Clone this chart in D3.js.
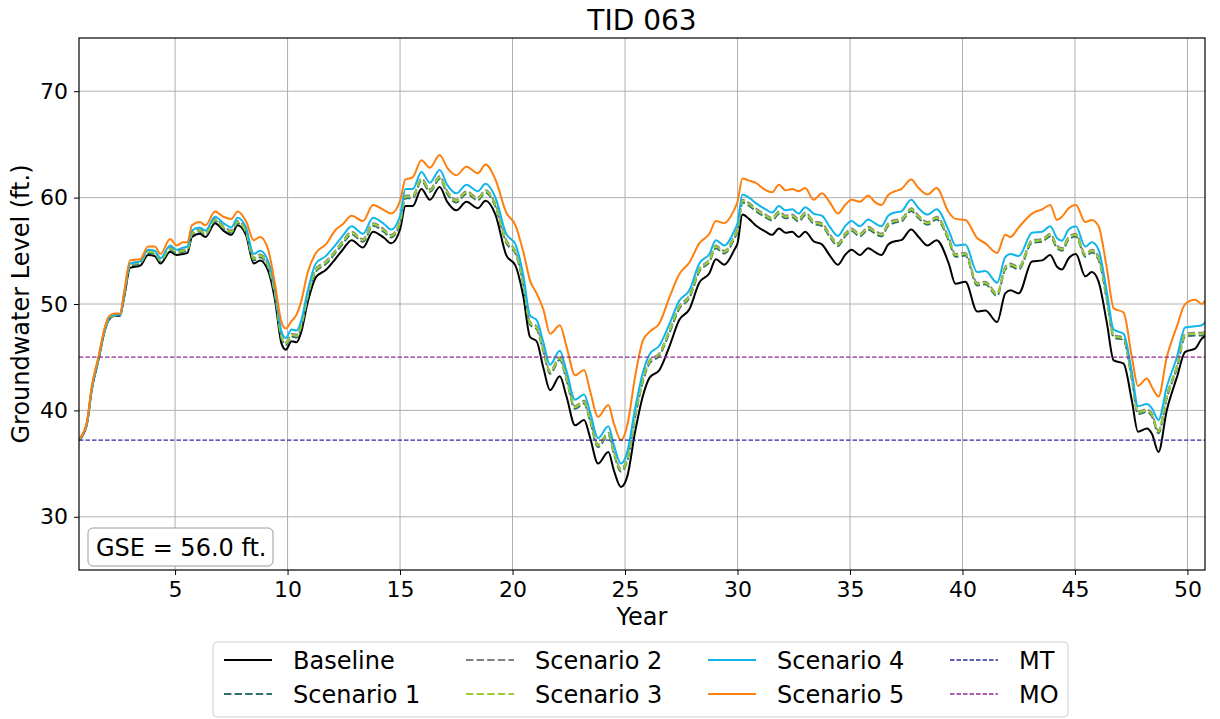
<!DOCTYPE html>
<html>
<head>
<meta charset="utf-8">
<script src="https://cdnjs.cloudflare.com/ajax/libs/d3/7.8.5/d3.min.js"></script>
<style>
  body { margin: 0; background: #fff; }
  svg text { font-family: "DejaVu Sans", sans-serif; fill: #000; }
</style>
</head>
<body>
<svg id="chart" width="1220" height="719"></svg>
<script>
// time axis (years), shared by every series
var years = [
  0.73, 1.07, 1.3, 1.6, 1.85, 2.05, 2.3, 2.55, 2.75,
  3.0, 3.45, 3.8, 4.1, 4.35, 4.78, 5.07, 5.35, 5.55,
  5.75, 6.1, 6.35, 6.78, 7.15, 7.5, 7.78, 8.15,
  8.5, 8.78, 9.14, 9.44, 9.73, 9.92, 10.18, 10.4, 10.6, 10.9,
  11.26, 11.7, 12.15, 12.45, 12.85, 13.35, 13.8, 14.3, 14.6, 15.0,
  15.24, 15.56, 15.95, 16.33, 16.76, 17.1, 17.5, 17.95, 18.46, 18.8, 19.24,
  19.72, 20.13, 20.48, 20.78, 21.07, 21.37, 21.67, 22.1, 22.4,
  22.78, 23.18, 23.44, 23.8, 24.26, 24.5, 24.82, 25.1,
  25.45, 25.8, 26.1, 26.53, 26.97, 27.41, 27.86, 28.3, 28.75,
  29.04, 29.41, 29.86, 30.0,
  30.22, 30.51, 30.8, 31.25, 31.54, 31.84, 32.13, 32.43, 32.72, 33.01,
  33.38, 33.75, 34.12, 34.46, 34.78, 35.07, 35.44, 35.81, 36.1, 36.4,
  36.7, 37.0, 37.28, 37.72, 38.05, 38.45, 38.85,
  39.39, 39.69, 40.13, 40.65, 41.02, 41.54, 41.9, 42.13, 42.5,
  43.09, 43.54, 43.9, 44.2, 44.42, 44.72, 45.04,
  45.46, 45.75, 46.05, 46.42, 46.72, 47.16,
  47.53, 47.8, 48.2, 48.42, 48.71,
  49.08, 49.53, 49.9, 50.34, 50.64, 50.78
];

var baseline = [
  37.2, 38.6, 42.0, 44.8, 47.3, 48.5, 48.9, 48.9, 50.8,
  53.4, 53.6, 54.6, 54.5, 53.8, 54.9, 54.6, 54.7, 54.8,
  56.3, 56.6, 56.3, 57.6, 56.9, 56.5, 57.4, 56.5,
  53.8, 54.1, 53.1, 50.4, 46.3, 45.7, 46.5, 46.4, 47.3, 50.2,
  52.5, 53.2, 54.3, 55.1, 56.0, 55.3, 56.8, 56.2, 55.7, 57.0,
  59.2, 59.2, 60.8, 59.8, 61.0, 59.6, 58.8, 59.6, 59.0, 59.7, 58.4,
  54.6, 53.6, 50.7, 46.9, 46.5, 44.0, 41.9, 43.2, 41.3,
  38.6, 39.1, 37.5, 35.0, 36.1, 34.4, 32.8, 33.8,
  38.0, 41.4, 43.1, 43.8, 46.0, 48.5, 49.5, 52.0, 52.9,
  54.2, 53.7, 55.1, 55.7,
  58.4, 58.0, 57.4, 56.8, 56.5, 57.1, 56.7, 56.8, 56.3, 56.8,
  55.9, 55.6, 54.5, 53.7, 54.6, 55.1, 54.6, 55.25, 54.9, 54.6,
  55.6, 55.9, 56.0, 57.0, 56.3, 55.5, 56.0,
  53.8, 51.9, 52.1, 49.3, 49.4, 48.3, 51.0, 51.3, 51.0,
  54.0, 54.1, 54.6, 53.5, 53.25, 54.3, 54.7,
  52.6, 53.0, 52.1, 48.2, 44.7, 44.4,
  40.9, 38.0, 38.3, 37.8, 36.1,
  40.0, 43.1, 45.5, 45.8, 46.75, 47.0
];

var scenario1 = [
  37.2, 38.6, 42.0, 44.8, 47.3, 48.5, 48.9, 48.9, 50.9,
  53.6, 53.8, 54.8, 54.7, 54.0, 55.1, 54.8, 54.9, 55.0,
  56.5, 56.8, 56.5, 57.8, 57.1, 56.7, 57.6, 56.7,
  54.1, 54.4, 53.4, 50.85, 46.75, 46.15, 46.95, 46.85, 47.75, 50.65,
  53.05, 53.75, 54.85, 55.65, 56.55, 55.85, 57.35, 56.75, 56.25, 57.55,
  59.95, 59.95, 61.55, 60.55, 61.75, 60.35, 59.55, 60.35, 59.75, 60.45, 59.15,
  55.75, 54.75, 51.85, 48.05, 47.65, 45.55, 43.45, 44.75, 42.85,
  40.15, 40.65, 39.05, 36.55, 37.65, 35.95, 34.25, 35.25,
  39.35, 42.75, 44.45, 45.15, 47.25, 49.55, 50.55, 53.05, 53.95,
  55.25, 54.75, 56.15, 56.85,
  59.55, 59.25, 58.75, 58.15, 57.85, 58.45, 58.05, 58.15, 57.75, 58.35,
  57.55, 57.35, 56.25, 55.45, 56.35, 56.85, 56.35, 57.0, 56.65, 56.35,
  57.35, 57.65, 57.75, 58.75, 58.05, 57.45, 57.95,
  55.95, 54.45, 54.55, 51.75, 51.85, 50.75, 53.25, 53.55, 53.25,
  55.75, 55.85, 56.35, 55.25, 55.0, 56.05, 56.35,
  54.45, 54.85, 54.15, 50.35, 46.85, 46.6,
  42.85, 39.65, 39.85, 39.45, 37.85,
  41.15, 43.95, 46.95, 47.05, 47.05, 47.15
];

var scenario2 = [
  37.3, 38.7, 42.1, 44.9, 47.4, 48.6, 49.0, 49.0, 51.1,
  53.8, 54.0, 55.0, 54.9, 54.2, 55.3, 55.0, 55.1, 55.2,
  56.7, 57.0, 56.7, 58.0, 57.3, 56.9, 57.8, 56.9,
  54.35, 54.65, 53.65, 51.1, 47.0, 46.4, 47.2, 47.1, 48.0, 50.9,
  53.3, 54.0, 55.1, 55.9, 56.8, 56.1, 57.6, 57.0, 56.5, 57.8,
  60.2, 60.2, 61.8, 60.8, 62.0, 60.6, 59.8, 60.6, 60.0, 60.7, 59.4,
  56.0, 55.0, 52.1, 48.3, 47.9, 45.8, 43.7, 45.0, 43.1,
  40.4, 40.9, 39.3, 36.8, 37.9, 36.2, 34.5, 35.5,
  39.6, 43.0, 44.7, 45.4, 47.5, 49.8, 50.8, 53.3, 54.2,
  55.5, 55.0, 56.4, 57.1,
  59.8, 59.5, 59.0, 58.4, 58.1, 58.7, 58.3, 58.4, 58.0, 58.6,
  57.8, 57.6, 56.5, 55.7, 56.6, 57.1, 56.6, 57.25, 56.9, 56.6,
  57.6, 57.9, 58.0, 59.0, 58.3, 57.7, 58.2,
  56.2, 54.7, 54.8, 52.0, 52.1, 51.0, 53.5, 53.8, 53.5,
  56.0, 56.1, 56.6, 55.5, 55.25, 56.3, 56.6,
  54.7, 55.1, 54.4, 50.6, 47.1, 46.85,
  43.1, 39.9, 40.1, 39.7, 38.1,
  41.4, 44.2, 47.2, 47.3, 47.3, 47.4
];

var scenario3 = [
  37.25, 38.65, 42.05, 44.85, 47.35, 48.55, 48.95, 48.95, 51.0,
  53.7, 53.9, 54.9, 54.8, 54.1, 55.2, 54.9, 55.0, 55.1,
  56.6, 56.9, 56.6, 57.9, 57.2, 56.8, 57.7, 56.8,
  54.25, 54.55, 53.55, 51.0, 46.9, 46.3, 47.1, 47.0, 47.9, 50.8,
  53.2, 53.9, 55.0, 55.8, 56.7, 56.0, 57.5, 56.9, 56.4, 57.7,
  60.1, 60.1, 61.7, 60.7, 61.9, 60.5, 59.7, 60.5, 59.9, 60.6, 59.3,
  55.9, 54.9, 52.0, 48.2, 47.8, 45.7, 43.6, 44.9, 43.0,
  40.3, 40.8, 39.2, 36.7, 37.8, 36.1, 34.4, 35.4,
  39.5, 42.9, 44.6, 45.3, 47.4, 49.7, 50.7, 53.2, 54.1,
  55.4, 54.9, 56.3, 57.0,
  59.7, 59.4, 58.9, 58.3, 58.0, 58.6, 58.2, 58.3, 57.9, 58.5,
  57.7, 57.5, 56.4, 55.6, 56.5, 57.0, 56.5, 57.15, 56.8, 56.5,
  57.5, 57.8, 57.9, 58.9, 58.2, 57.6, 58.1,
  56.1, 54.6, 54.7, 51.9, 52.0, 50.9, 53.4, 53.7, 53.4,
  55.9, 56.0, 56.5, 55.4, 55.15, 56.2, 56.5,
  54.6, 55.0, 54.3, 50.5, 47.0, 46.75,
  43.0, 39.8, 40.0, 39.6, 38.0,
  41.3, 44.1, 47.1, 47.2, 47.2, 47.3
];

var scenario4 = [
  37.3, 38.7, 42.1, 44.9, 47.4, 48.6, 49.0, 49.0, 51.1,
  53.8, 54.0, 55.1, 55.0, 54.3, 55.5, 55.1, 55.3, 55.4,
  56.9, 57.2, 56.9, 58.2, 57.6, 57.2, 58.1, 57.2,
  54.7, 55.0, 54.0, 51.5, 47.4, 46.8, 47.6, 47.5, 48.4, 51.3,
  53.8, 54.5, 55.6, 56.4, 57.3, 56.6, 58.1, 57.5, 57.0, 58.3,
  60.8, 60.8, 62.4, 61.4, 62.6, 61.2, 60.4, 61.2, 60.6, 61.3, 60.0,
  56.6, 55.6, 52.7, 48.9, 48.5, 46.4, 44.3, 45.6, 43.7,
  41.0, 41.5, 39.9, 37.4, 38.5, 36.8, 35.0, 36.1,
  40.2, 43.6, 45.3, 46.1, 48.1, 50.3, 51.3, 53.8, 54.7,
  56.0, 55.5, 56.9, 57.6,
  60.3, 60.0, 59.5, 58.9, 58.6, 59.2, 58.8, 58.9, 58.5, 59.1,
  58.5, 58.3, 57.2, 56.4, 57.3, 57.8, 57.3, 57.95, 57.6, 57.3,
  58.3, 58.6, 58.7, 59.8, 59.0, 58.4, 58.9,
  56.9, 55.5, 55.6, 53.0, 53.1, 52.0, 54.4, 54.7, 54.5,
  56.7, 56.8, 57.3, 56.2, 55.95, 57.0, 57.3,
  55.4, 55.8, 55.1, 51.1, 47.6, 47.2,
  43.6, 40.4, 40.6, 40.2, 39.1,
  42.2, 45.0, 47.8, 47.9, 48.0, 48.3
];

var scenario5 = [
  37.3, 38.8, 42.3, 45.1, 47.6, 48.8, 49.1, 49.1, 51.3,
  54.1, 54.2, 55.4, 55.4, 54.7, 56.1, 55.5, 55.8, 55.8,
  57.4, 57.7, 57.4, 58.7, 58.2, 58.0, 58.7, 57.8,
  56.0, 56.3, 55.1, 51.9, 48.3, 47.7, 48.4, 49.0, 50.2, 53.0,
  54.8, 55.6, 57.0, 57.5, 58.3, 57.8, 59.3, 58.8, 58.5, 59.7,
  61.7, 61.9, 63.5, 62.8, 64.0, 62.8, 62.1, 62.9, 62.3, 63.1, 61.7,
  58.6, 57.4, 54.9, 52.2, 51.0, 49.5, 47.2, 48.0, 46.0,
  43.3, 43.8, 41.9, 39.4, 40.5, 38.8, 37.2, 38.6,
  43.2, 46.6, 47.4, 48.2, 50.6, 52.8, 53.9, 55.7, 56.6,
  57.8, 57.6, 58.9, 59.6,
  61.8, 61.6, 61.4, 60.7, 60.5, 61.2, 60.7, 60.8, 60.6, 60.9,
  59.8, 60.4, 59.5, 58.5, 59.3, 59.8, 59.6, 60.2, 59.6, 59.3,
  60.25, 60.6, 60.8, 61.7, 60.9, 60.3, 60.9,
  58.6, 58.0, 57.9, 56.2, 55.7, 54.8, 56.5, 56.3, 57.2,
  58.5, 58.9, 59.3, 57.9, 58.2, 59.0, 59.3,
  57.7, 57.9, 57.3, 53.3, 49.6, 49.2,
  45.0, 42.3, 43.0, 42.2, 41.3,
  45.0, 47.9, 50.0, 50.4, 50.0, 50.3
];

// thresholds
var mtLevel = 37.2,
    moLevel = 45.0,
    gse = 56.0;

var xTicks = [5, 10, 15, 20, 25, 30, 35, 40, 45, 50],
    yTicks = [30, 40, 50, 60, 70];

var seriesNames = ['Baseline', 'Scenario 1', 'Scenario 2', 'Scenario 3', 'Scenario 4', 'Scenario 5'],
    seriesData = [baseline, scenario1, scenario2, scenario3, scenario4, scenario5];

// styling (matplotlib look)
var seriesStyle = [
  { color: '#000000', dash: null },
  { color: '#2f6f6f', dash: '7.4,3.2' },
  { color: '#808080', dash: '7.4,3.2' },
  { color: '#9acd32', dash: '7.4,3.2' },
  { color: '#11b5ea', dash: null },
  { color: '#ff7f0e', dash: null }
];
var refLines = [
  { name: 'MT', value: mtLevel, color: '#2b2b9c' },
  { name: 'MO', value: moLevel, color: '#8e2c8e' }
];

var svg = d3.select('#chart'),
    margin = { left: 79, right: 15, top: 38, bottom: 149 },
    W = 1220, H = 719,
    pw = W - margin.left - margin.right,
    ph = H - margin.top - margin.bottom;

var x = d3.scaleLinear().domain([0.73, 50.78]).range([0, pw]),
    y = d3.scaleLinear().domain([25, 75]).range([ph, 0]);

var g = svg.append('g').attr('transform', 'translate(' + margin.left + ',' + margin.top + ')');

g.append('clipPath').attr('id', 'clip')
  .append('rect').attr('width', pw).attr('height', ph);

// grid
g.append('g').selectAll('line').data(xTicks).enter().append('line')
  .attr('x1', function(d) { return x(d); }).attr('x2', function(d) { return x(d); })
  .attr('y1', 0).attr('y2', ph)
  .attr('stroke', '#b0b0b0').attr('stroke-width', 1);
g.append('g').selectAll('line').data(yTicks).enter().append('line')
  .attr('y1', function(d) { return y(d); }).attr('y2', function(d) { return y(d); })
  .attr('x1', 0).attr('x2', pw)
  .attr('stroke', '#b0b0b0').attr('stroke-width', 1);

// series
var line = d3.line()
  .curve(d3.curveMonotoneX)
  .x(function(d) { return x(d[0]); })
  .y(function(d) { return y(d[1]); });

var plotArea = g.append('g').attr('clip-path', 'url(#clip)');

seriesData.forEach(function(vals, i) {
  var n = Math.min(years.length, vals.length);
  var pts = d3.range(n).map(function(k) { return [years[k], vals[k]]; });
  plotArea.append('path')
    .datum(pts)
    .attr('d', line)
    .attr('fill', 'none')
    .attr('stroke', seriesStyle[i].color)
    .attr('stroke-width', 2)
    .attr('stroke-linejoin', 'round')
    .attr('stroke-dasharray', seriesStyle[i].dash);
});

// MT / MO
plotArea.selectAll('.ref').data(refLines).enter().append('line')
  .attr('x1', 0).attr('x2', pw)
  .attr('y1', function(d) { return y(d.value); })
  .attr('y2', function(d) { return y(d.value); })
  .attr('stroke', function(d) { return d.color; })
  .attr('stroke-width', 1.3)
  .attr('stroke-dasharray', '4.5,2');

// axes
var xAxis = d3.axisBottom(x).tickValues(xTicks).tickSize(5).tickPadding(6),
    yAxis = d3.axisLeft(y).tickValues(yTicks).tickSize(5).tickPadding(6);

var gx = g.append('g').attr('transform', 'translate(0,' + ph + ')').call(xAxis);
var gy = g.append('g').call(yAxis);
[gx, gy].forEach(function(a) {
  a.select('.domain').remove();
  a.selectAll('line').attr('stroke', '#000');
  a.selectAll('text').attr('font-size', 22).attr('font-family', 'DejaVu Sans');
});

g.append('rect')
  .attr('width', pw).attr('height', ph)
  .attr('fill', 'none').attr('stroke', '#000').attr('stroke-width', 1.2);

// labels
svg.append('text').attr('x', margin.left + pw / 2).attr('y', 30)
  .attr('text-anchor', 'middle').attr('font-size', 28).text('TID 063');
svg.append('text').attr('x', margin.left + pw / 2).attr('y', 625)
  .attr('text-anchor', 'middle').attr('font-size', 24).text('Year');
svg.append('text')
  .attr('transform', 'translate(29,' + (margin.top + ph / 2) + ') rotate(-90)')
  .attr('text-anchor', 'middle').attr('font-size', 24).text('Groundwater Level (ft.)');

// GSE box
var gseBox = g.append('g').attr('transform', 'translate(9,' + (ph - 42) + ')');
gseBox.append('rect').attr('width', 185).attr('height', 38).attr('rx', 5)
  .attr('fill', '#fff').attr('stroke', '#9a9a9a').attr('stroke-width', 1);
gseBox.append('text').attr('x', 8).attr('y', 28).attr('font-size', 24)
  .text('GSE = ' + gse.toFixed(1) + ' ft.');

// legend
var legendItems = seriesNames.map(function(nm, i) {
  return { name: nm, color: seriesStyle[i].color, dash: seriesStyle[i].dash, w: 2 };
}).concat(refLines.map(function(r) {
  return { name: r.name, color: r.color, dash: '4.5,2', w: 1.3 };
}));

var leg = svg.append('g').attr('transform', 'translate(213,642)');
leg.append('rect').attr('width', 855).attr('height', 75).attr('rx', 4)
  .attr('fill', '#fff').attr('stroke', '#d0d0d0');

legendItems.forEach(function(d, i) {
  var col = Math.floor(i / 2), row = i % 2,
      lx = 11 + col * 242, ly = 18 + row * 34;
  leg.append('line')
    .attr('x1', lx).attr('x2', lx + 48).attr('y1', ly).attr('y2', ly)
    .attr('stroke', d.color).attr('stroke-width', d.w)
    .attr('stroke-dasharray', d.dash);
  leg.append('text').attr('x', lx + 69).attr('y', ly + 9)
    .attr('font-size', 24).text(d.name);
});
</script>
</body>
</html>
